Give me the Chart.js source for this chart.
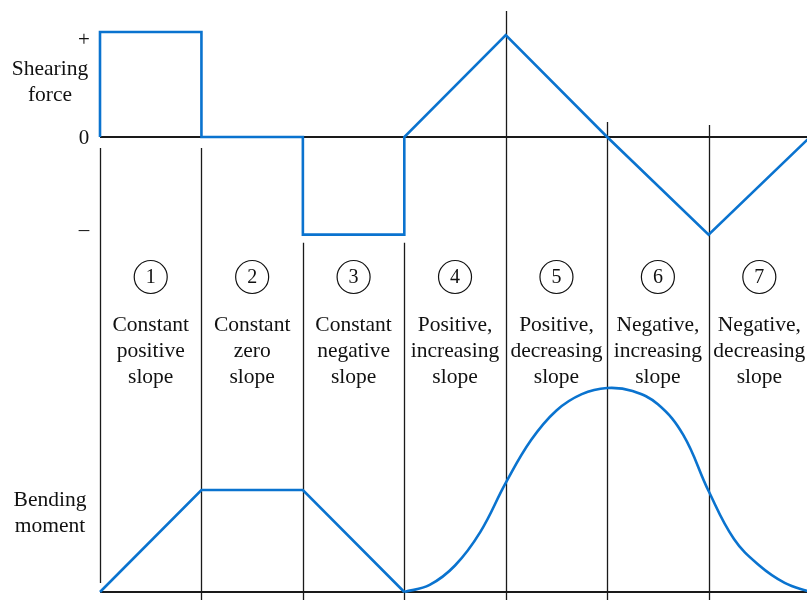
<!DOCTYPE html>
<html>
<head>
<meta charset="utf-8">
<script src="https://cdn.jsdelivr.net/npm/chart.js@4/dist/chart.umd.min.js"></script>
<style>
  html, body { margin: 0; padding: 0; background: #ffffff; }
  #wrap { width: 807px; height: 600px; }
</style>
</head>
<body>
<div id="wrap"><canvas id="c" width="807" height="600"></canvas></div>
<script>
// ---- Data ----
const sectionNumbers = ['1', '2', '3', '4', '5', '6', '7'];
const sectionLabels = [
  ['Constant', 'positive', 'slope'],
  ['Constant', 'zero', 'slope'],
  ['Constant', 'negative', 'slope'],
  ['Positive,', 'increasing', 'slope'],
  ['Positive,', 'decreasing', 'slope'],
  ['Negative,', 'increasing', 'slope'],
  ['Negative,', 'decreasing', 'slope']
];
const sectionBoundaries = [0, 1, 2, 3, 4, 5, 6];

// Shearing force diagram (x in section units)
const shearX = [0, 0, 1, 1, 2, 2, 3, 3, 4, 5, 6, 7];
const shearY = [0, 1, 1, 0, 0, -0.93, -0.93, 0, 0.97, 0, -0.93, 0];

// Bending moment diagram: straight part (sections 1-3)
const momentLinX = [0, 1, 2, 3];
const momentLinY = [0, 1, 1, 0];
// Bending moment diagram: curved part (sections 4-7)
const momentCurveX = [3, 3.25, 3.5, 3.75, 4, 4.25, 4.5, 4.75, 5, 5.25, 5.5, 5.75, 6, 6.25, 6.5, 6.75, 7];
const momentCurveY = [0, 0.07, 0.26, 0.59, 1.07, 1.49, 1.78, 1.94, 2.0, 1.97, 1.84, 1.54, 0.99, 0.52, 0.26, 0.09, 0];

const shearTickLabels = ['+', '0', '–'];
const shearTickValues = [1, 0, -0.93];
const shearTitle = ['Shearing', 'force'];
const momentTitle = ['Bending', 'moment'];

// ---- Chart ----
const BLUE = '#0a73cf';
const FONT = '"Liberation Serif", "DejaVu Serif", serif';

function pts(xs, ys) { return xs.map((x, i) => ({ x: x, y: ys[i] })); }

const decor = {
  id: 'decor',
  beforeDatasetsDraw(chart) {
    const ctx = chart.ctx;
    const xs = chart.scales.x, yS = chart.scales.yS, yM = chart.scales.yM;
    const area = chart.chartArea;
    const z = yS.getPixelForValue(0);
    const neg = yS.getPixelForValue(-0.93);
    const base = yM.getPixelForValue(0);
    ctx.save();
    ctx.strokeStyle = '#1a1a1a';
    // divider lines
    ctx.lineWidth = 1.3;
    const tops = [z + 11, z + 11, neg + 8, neg + 8, 11, z - 15, z - 12];
    sectionBoundaries.forEach((b, i) => {
      const px = Math.round(xs.getPixelForValue(b)) + 0.5;
      const bottom = i === 0 ? base - 9 : chart.height;
      ctx.beginPath();
      ctx.moveTo(px, tops[i]);
      ctx.lineTo(px, bottom);
      ctx.stroke();
    });
    // zero line for shear and baseline for moment
    ctx.lineWidth = 2;
    ctx.beginPath();
    ctx.moveTo(xs.getPixelForValue(0), z);
    ctx.lineTo(area.right, z);
    ctx.moveTo(xs.getPixelForValue(0), base);
    ctx.lineTo(area.right, base);
    ctx.stroke();
    ctx.restore();
  },
  afterDraw(chart) {
    const ctx = chart.ctx;
    const xs = chart.scales.x, yS = chart.scales.yS;
    ctx.save();
    ctx.fillStyle = '#111111';
    ctx.strokeStyle = '#111111';
    ctx.textAlign = 'center';
    ctx.textBaseline = 'middle';
    // shear tick labels
    ctx.font = '21px ' + FONT;
    const tickOffsets = [8, 1, -4];
    shearTickLabels.forEach((t, i) => {
      ctx.fillText(t, 84, yS.getPixelForValue(shearTickValues[i]) + tickOffsets[i]);
    });
    // axis titles
    ctx.font = '21.5px ' + FONT;
    shearTitle.forEach((t, i) => ctx.fillText(t, 50, 69 + i * 26));
    momentTitle.forEach((t, i) => ctx.fillText(t, 50, 500 + i * 26));
    // section circles, numbers and labels
    sectionNumbers.forEach((n, i) => {
      const cx = xs.getPixelForValue(i + 0.5);
      ctx.lineWidth = 1.2;
      ctx.beginPath();
      ctx.arc(cx, 277, 16.5, 0, Math.PI * 2);
      ctx.stroke();
      ctx.font = '20px ' + FONT;
      ctx.fillText(n, cx, 278);
      ctx.font = '21.5px ' + FONT;
      sectionLabels[i].forEach((t, j) => ctx.fillText(t, cx, 325 + j * 26));
    });
    ctx.restore();
  }
};

new Chart(document.getElementById('c'), {
  type: 'scatter',
  data: {
    datasets: [
      {
        label: 'Shearing force',
        data: pts(shearX, shearY),
        yAxisID: 'yS',
        showLine: true,
        borderColor: BLUE,
        borderWidth: 2.6,
        pointRadius: 0,
        tension: 0,
        clip: false,
        borderJoinStyle: 'miter'
      },
      {
        label: 'Bending moment (linear)',
        data: pts(momentLinX, momentLinY),
        yAxisID: 'yM',
        showLine: true,
        borderColor: BLUE,
        borderWidth: 2.6,
        pointRadius: 0,
        tension: 0,
        clip: false
      },
      {
        label: 'Bending moment (curved)',
        data: pts(momentCurveX, momentCurveY),
        yAxisID: 'yM',
        showLine: true,
        borderColor: BLUE,
        borderWidth: 2.6,
        pointRadius: 0,
        tension: 0.4,
        clip: false
      }
    ]
  },
  options: {
    responsive: false,
    animation: false,
    devicePixelRatio: 1,
    layout: { padding: { left: 100, right: 0, top: 0, bottom: 0 } },
    plugins: { legend: { display: false }, tooltip: { enabled: false } },
    scales: {
      x: { type: 'linear', min: 0, max: 6.97, display: false },
      yS: { type: 'linear', min: -4.4095, max: 1.3048, display: false },
      yM: { type: 'linear', min: -0.0784, max: 5.804, display: false }
    }
  },
  plugins: [decor]
});
</script>
</body>
</html>
